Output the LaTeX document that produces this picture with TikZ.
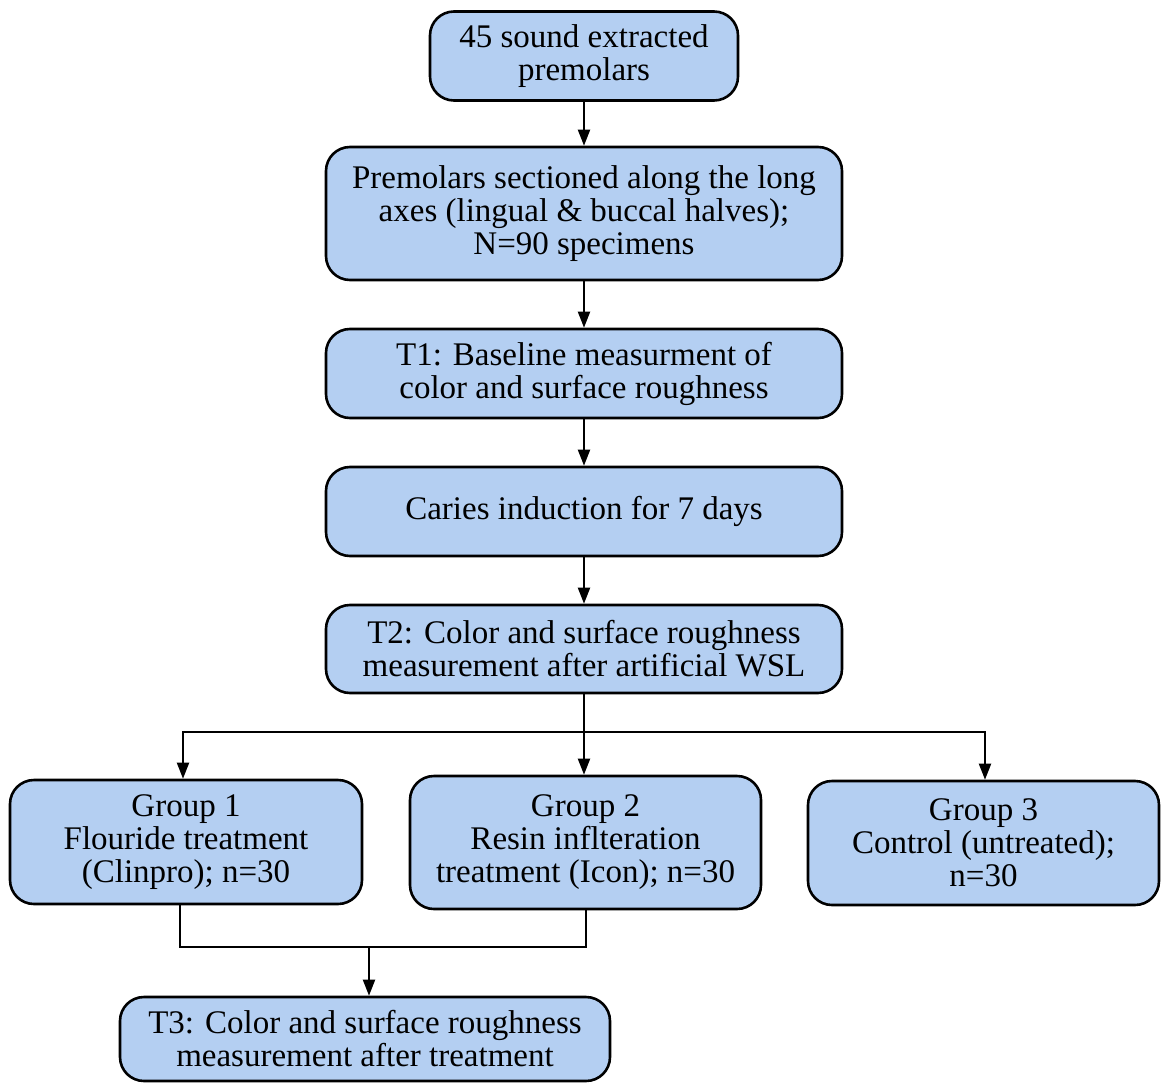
\documentclass[tikz,border=0pt]{standalone}
\usepackage{fontspec}
\setmainfont{Liberation Serif}
\usetikzlibrary{arrows.meta}
\definecolor{boxfill}{RGB}{180,207,242}
\begin{document}
\begin{tikzpicture}[x=1pt,y=-1pt,
  stepbox/.style={draw=black,line width=2.6pt,fill=boxfill,rounded corners=24pt,
    align=center,inner sep=0pt,font=\fontsize{33pt}{33pt}\selectfont},
  conn/.style={line width=2pt,-{Triangle[length=16pt,width=12pt]}},
  plainline/.style={line width=2pt}]
\useasboundingbox (0,0) rectangle (1161,1083);
\node[stepbox,minimum width=308pt,minimum height=89pt] (b1) at (584,56) {45 sound extracted\\premolars};
\node[stepbox,minimum width=516pt,minimum height=133pt] (b2) at (584,213.5) {Premolars sectioned along the long\\axes (lingual \& buccal halves);\\N=90 specimens};
\node[stepbox,minimum width=516pt,minimum height=89pt] (b3) at (584,373.5) {T1: Baseline measurment of\\color and surface roughness};
\node[stepbox,minimum width=516pt,minimum height=89pt] (b4) at (584,511.5) {Caries induction for 7 days};
\node[stepbox,minimum width=516pt,minimum height=88pt] (b5) at (584,649) {T2: Color and surface roughness\\measurement after artificial WSL};
\node[stepbox,minimum width=352pt,minimum height=124pt] (g1) at (186,842) {Group 1\\Flouride treatment\\(Clinpro); n=30};
\node[stepbox,minimum width=351pt,minimum height=133pt] (g2) at (585.5,842.5) {Group 2\\Resin inflteration\\treatment (Icon); n=30};
\node[stepbox,minimum width=351pt,minimum height=124pt] (g3) at (983.5,843) {Group 3\\Control (untreated);\\n=30};
\node[stepbox,minimum width=490pt,minimum height=84pt] (t3) at (365,1039) {T3: Color and surface roughness\\measurement after treatment};
\coordinate (split) at (584,732);
\coordinate (merge) at (369,947);
\draw[conn] (b1) -- (b2);
\draw[conn] (b2) -- (b3);
\draw[conn] (b3) -- (b4);
\draw[conn] (b4) -- (b5);
\draw[plainline] (b5.south) -- (split);
\draw[conn] (split) -| (g1.north -| 183,0);
\draw[conn] (split) -- (g2.north -| 584,0);
\draw[conn] (split) -| (g3.north -| 985,0);
\draw[plainline] (g1.south -| 180,0) |- (merge) -| (g2.south -| 586,0);
\draw[conn] (merge) -- (t3.north -| 369,0);
\end{tikzpicture}
\end{document}
